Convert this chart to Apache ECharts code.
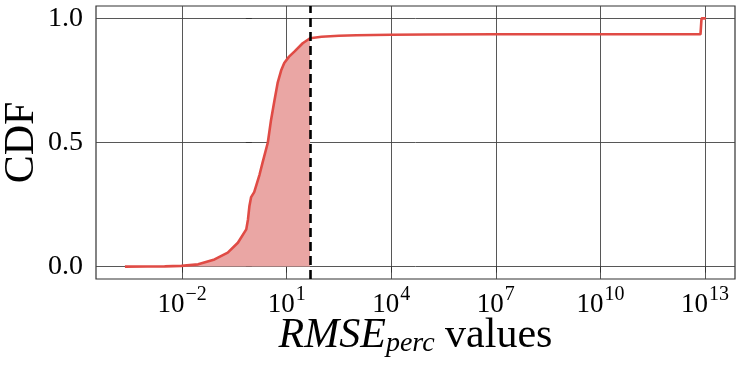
<!DOCTYPE html>
<html>
<head>
<meta charset="utf-8">
<script src="https://cdn.jsdelivr.net/npm/echarts@6/dist/echarts.min.js"></script>
<style>
html,body{margin:0;padding:0;background:#fff;}
#chart{width:741px;height:368px;}
</style>
</head>
<body>
<div id="chart"></div>
<script>
// RMSE_perc values (raw) and cumulative fraction
var rmseValues = [2.29e-4, 1.0e-3, 3.16e-3, 9.55e-3, 0.0288, 0.0851, 0.204, 0.398, 0.692, 0.776, 0.851, 0.955,
  1.17, 1.66, 2.04, 2.88, 3.55, 4.47, 5.50, 6.92, 8.51, 11.7, 16.6, 28.8, 46.8,
  100, 316, 1000, 1e4, 1e5, 1e7, 7.41e12, 7.94e12, 1.07e13];
var cdfValues = [0.0, 0.0005, 0.001, 0.003, 0.009, 0.029, 0.056, 0.096, 0.15, 0.19, 0.243, 0.28,
  0.30, 0.37, 0.42, 0.50, 0.59, 0.67, 0.74, 0.79, 0.82, 0.846, 0.866, 0.90, 0.92,
  0.926, 0.930, 0.932, 0.934, 0.935, 0.936, 0.936, 1.0, 1.0];
var threshold = 46.8;
var xTickExponents = [-2, 1, 4, 7, 10, 13];
var yTickValues = [0, 0.5, 1.0];

var FONT = "'Liberation Serif', 'Times New Roman', serif";
var lineData = rmseValues.map(function (v, i) { return [Math.log10(v), cdfValues[i]]; });
var fillData = lineData.filter(function (p) { return p[0] <= Math.log10(threshold) + 1e-9; });

var chart = echarts.init(document.getElementById('chart'), null, {renderer: 'canvas'});
chart.setOption({
  animation: false,
  backgroundColor: '#fff',
  grid: {left: 96, right: 6, top: 6, bottom: 89, containLabel: false, outerBoundsMode: 'none',
    show: true, borderColor: '#333', borderWidth: 1.2, backgroundColor: 'transparent'},
  xAxis: {
    type: 'value', min: -4.47, max: 13.86,
    axisLine: {show: false},
    axisTick: {show: true, inside: false, length: 6, customValues: xTickExponents, lineStyle: {color: '#333', width: 1}},
    splitLine: {show: true, lineStyle: {color: '#444', width: 0.9}},
    axisLabel: {
      customValues: xTickExponents, margin: 6, color: '#000',
      formatter: function (v) { var e = Math.round(v); return '{b|10}{s|' + (e < 0 ? '\u2212' + (-e) : e) + '}'; },
      rich: {
        b: {fontFamily: FONT, fontSize: 27, color: '#000'},
        s: {fontFamily: FONT, fontSize: 20, color: '#000', padding: [0, 0, 19, 1]}
      }
    },
    name: '{i|RMSE}{sub|perc}{r| values}',
    nameLocation: 'middle', nameGap: 35, nameMoveOverlap: false,
    nameTextStyle: {
      rich: {
        i: {fontFamily: FONT, fontStyle: 'italic', fontSize: 42, color: '#000'},
        sub: {fontFamily: FONT, fontStyle: 'italic', fontSize: 28, color: '#000', padding: [16, 0, 0, 0]},
        r: {fontFamily: FONT, fontSize: 42, color: '#000'}
      }
    }
  },
  yAxis: {
    type: 'value', min: -0.05, max: 1.05,
    axisLine: {show: false},
    axisTick: {show: true, inside: false, length: 6, customValues: yTickValues, lineStyle: {color: '#333', width: 1}},
    splitLine: {show: true, lineStyle: {color: '#444', width: 0.9}},
    axisLabel: {customValues: yTickValues, margin: 13, fontFamily: FONT, fontSize: 28, color: '#000',
      formatter: function (v) { return v.toFixed(1); }},
    name: 'CDF', nameLocation: 'middle', nameRotate: 90, nameGap: 53, nameMoveOverlap: false,
    nameTextStyle: {fontFamily: FONT, fontSize: 42, color: '#000'}
  },
  series: [
    {
      type: 'line', data: fillData, showSymbol: false, smooth: false,
      lineStyle: {width: 0}, areaStyle: {color: '#eaa6a4', opacity: 1}, z: 1, silent: true
    },
    {
      type: 'line', data: lineData, showSymbol: false, smooth: false,
      lineStyle: {color: '#e04b45', width: 2.6}, z: 3,
      markLine: {
        silent: true, symbol: ['none', 'none'], label: {show: false},
        lineStyle: {color: '#000', width: 2.6, type: [9, 5]},
        data: [{xAxis: Math.log10(threshold)}]
      }
    }
  ]
});
</script>
</body>
</html>
